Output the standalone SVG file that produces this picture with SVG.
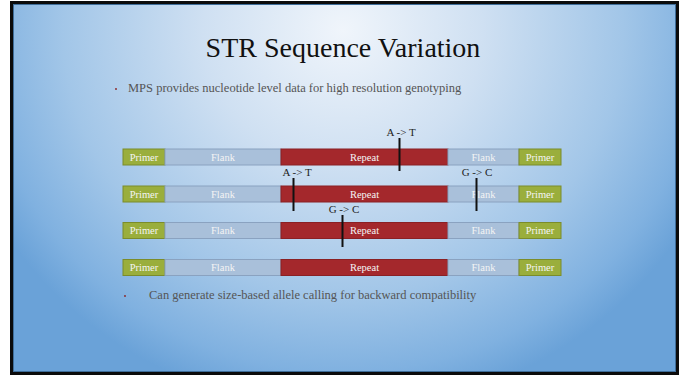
<svg xmlns="http://www.w3.org/2000/svg" width="685" height="377" viewBox="0 0 685 377">
<defs>
<radialGradient id="bg" cx="343" cy="30" r="400" gradientUnits="userSpaceOnUse" gradientTransform="translate(343 30) scale(1 0.95) translate(-343 -30)">
<stop offset="0" stop-color="#f0f5fb"/>
<stop offset="0.35" stop-color="#cfe0f2"/>
<stop offset="0.7" stop-color="#a2c6e8"/>
<stop offset="0.9" stop-color="#80b1e0"/>
<stop offset="1" stop-color="#6aa2d8"/>
</radialGradient>
<style>
.primer{fill:#9aae3c;stroke:#7b8c2a;stroke-width:1}
.flank{fill:#a9c0da;stroke:#8aa2c0;stroke-width:1}
.repeat{fill:#a4282c;stroke:#8a2024;stroke-width:1}
text{font-family:"Liberation Serif","Times New Roman",serif}
.bt{font-size:10.5px;fill:#f4f4f4;text-anchor:middle}
.ml{font-size:11px;fill:#222;text-anchor:middle}
.mut{stroke:#111;stroke-width:2}
.body{font-size:12.5px;fill:#555}
</style>
<g id="bar">
<rect class="primer" x="123" y="0" width="42" height="16"/>
<rect class="flank" x="165" y="0" width="116" height="16"/>
<rect class="repeat" x="281" y="0" width="167" height="16"/>
<rect class="flank" x="448" y="0" width="71" height="16"/>
<rect class="primer" x="519" y="0" width="42" height="16"/>
<text class="bt" x="144" y="11.5">Primer</text>
<text class="bt" x="223" y="11.5">Flank</text>
<text class="bt" x="364.5" y="11.5">Repeat</text>
<text class="bt" x="483.5" y="11.5">Flank</text>
<text class="bt" x="540" y="11.5">Primer</text>
</g>
</defs>
<rect x="0" y="0" width="685" height="377" fill="#ffffff"/>
<rect x="11.5" y="2.5" width="666" height="371" fill="url(#bg)" stroke="#0b0b0b" stroke-width="3"/>
<rect x="13.5" y="4.5" width="662" height="367" fill="none" stroke="#3f6e9a" stroke-width="1"/>
<text x="343" y="57" font-size="28" fill="#111" text-anchor="middle">STR Sequence Variation</text>
<circle cx="116" cy="89" r="0.9" fill="#8b2020"/>
<text class="body" x="128" y="92">MPS provides nucleotide level data for high resolution genotyping</text>
<g id="allele1"><use href="#bar" x="0" y="149"/></g>
<g id="allele2"><use href="#bar" x="0" y="186"/></g>
<g id="allele3"><use href="#bar" x="0" y="222.5"/></g>
<g id="allele4"><use href="#bar" x="0" y="259.5"/></g>
<g id="mutations">
<line class="mut" x1="399.5" y1="138" x2="399.5" y2="171"/>
<text class="ml" x="401" y="136">A -&gt; T</text>
<line class="mut" x1="293.5" y1="178" x2="293.5" y2="211"/>
<text class="ml" x="297" y="176">A -&gt; T</text>
<line class="mut" x1="476.5" y1="178" x2="476.5" y2="211"/>
<text class="ml" x="477" y="176">G -&gt; C</text>
<line class="mut" x1="342.5" y1="215" x2="342.5" y2="247"/>
<text class="ml" x="344" y="213">G -&gt; C</text>
</g>
<circle cx="125" cy="296" r="0.9" fill="#8b2020"/>
<text class="body" x="149" y="299">Can generate size-based allele calling for backward compatibility</text>
</svg>
